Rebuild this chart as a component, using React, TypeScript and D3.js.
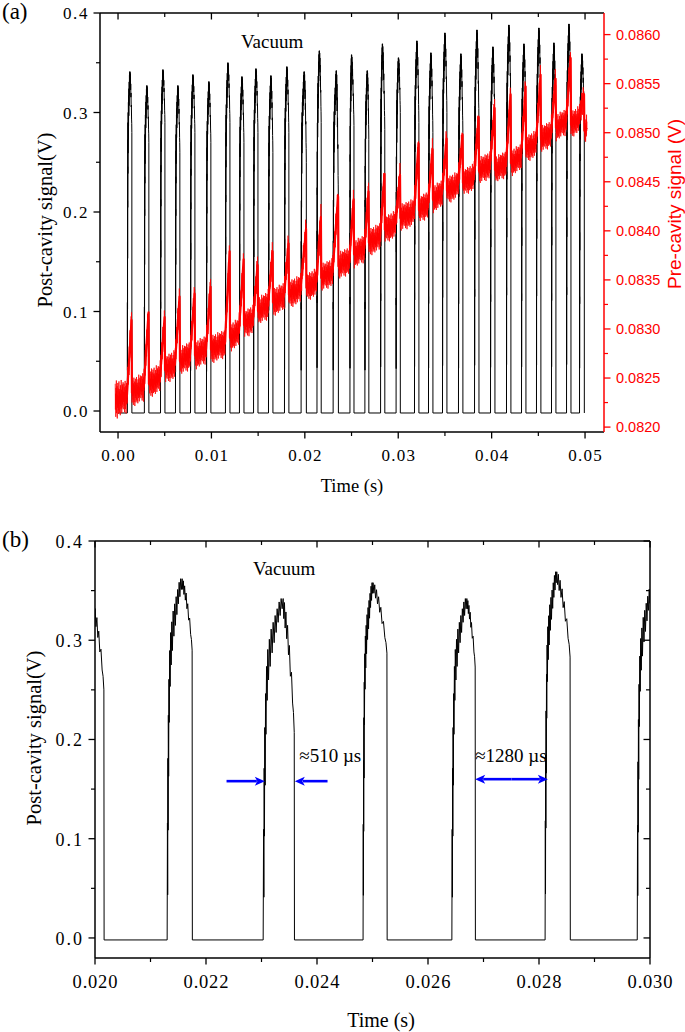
import React from 'react';
import * as d3 from 'd3';

// ---------------- DATA ----------------
// Post-cavity pulses (time in s, signal in V)
const PULSE_RISE_T = [0.00100, 0.00282, 0.00455, 0.00615, 0.00776, 0.00947, 0.01150, 0.01300, 0.01451, 0.01611, 0.01782, 0.01960, 0.02130, 0.02303, 0.02483, 0.02643, 0.02811, 0.02977, 0.03174, 0.03324, 0.03474, 0.03645, 0.03817, 0.03988, 0.04159, 0.04320, 0.04480, 0.04641, 0.04802, 0.04941];
const PULSE_PEAK_T = [0.00128, 0.00310, 0.00482, 0.00642, 0.00803, 0.00974, 0.01178, 0.01328, 0.01478, 0.01638, 0.01809, 0.01995, 0.02157, 0.02339, 0.02501, 0.02670, 0.02832, 0.03004, 0.03201, 0.03351, 0.03501, 0.03672, 0.03844, 0.04015, 0.04186, 0.04347, 0.04507, 0.04668, 0.04829, 0.04968];
const PULSE_FALL_T = [0.00148, 0.00330, 0.00502, 0.00662, 0.00823, 0.00994, 0.01198, 0.01348, 0.01498, 0.01658, 0.01829, 0.02016, 0.02175, 0.02359, 0.02526, 0.02685, 0.02856, 0.03022, 0.03221, 0.03371, 0.03521, 0.03692, 0.03864, 0.04035, 0.04206, 0.04367, 0.04527, 0.04688, 0.04849, 0.04992];
const PULSE_PEAK_V = [0.341, 0.327, 0.343, 0.327, 0.338, 0.331, 0.350, 0.336, 0.344, 0.337, 0.346, 0.341, 0.362, 0.342, 0.358, 0.342, 0.369, 0.355, 0.372, 0.360, 0.380, 0.359, 0.383, 0.366, 0.388, 0.369, 0.385, 0.370, 0.389, 0.359];
const PULSE_FALL_V = [0.28, 0.27, 0.29, 0.26, 0.28, 0.27, 0.29, 0.27, 0.28, 0.26, 0.28, 0.25, 0.29, 0.207, 0.287, 0.273, 0.283, 0.30, 0.29, 0.28, 0.30, 0.28, 0.29, 0.28, 0.30, 0.29, 0.30, 0.28, 0.30, 0.29];
const BASELINE_V = -0.002;

// Pulse shape template (fractions)
const RISE_SHAPE_U = [0, 0.02, 0.035, 0.05, 0.065, 0.08, 0.10, 0.12, 0.14, 0.17, 0.20, 0.23, 0.27, 0.31, 0.35, 0.40, 0.45, 0.50, 0.55, 0.60, 0.65, 0.70, 0.75, 0.80, 0.85, 0.90, 0.95, 1];
const RISE_SHAPE_F = [0, 0.32, 0.12, 0.50, 0.30, 0.62, 0.45, 0.72, 0.60, 0.80, 0.70, 0.85, 0.76, 0.88, 0.80, 0.91, 0.84, 0.93, 0.87, 0.95, 0.90, 0.97, 0.93, 0.99, 0.95, 1.0, 0.97, 1];
const FALL_SHAPE_V = [0, 0.06, 0.12, 0.18, 0.25, 0.32, 0.40, 0.48, 0.56, 0.65, 0.75, 0.85, 0.93, 1];
const FALL_SHAPE_G = [0, 0.15, 0.03, 0.22, 0.10, 0.30, 0.20, 0.42, 0.35, 0.58, 0.55, 0.78, 0.85, 1];

// Pre-cavity signal (right axis, V): band level in each gap and spike top at each pulse
const RED_LEVEL = [0.08228, 0.08238, 0.08247, 0.08261, 0.08270, 0.08276, 0.08282, 0.08294, 0.08307, 0.08321, 0.08330, 0.08338, 0.08345, 0.08355, 0.08367, 0.08379, 0.08391, 0.08404, 0.08416, 0.08424, 0.08435, 0.08444, 0.08452, 0.08464, 0.08465, 0.08472, 0.08486, 0.08496, 0.08508, 0.08511, 0.08505];
const RED_SPIKE = [0.08316, 0.08324, 0.08319, 0.08340, 0.08343, 0.08350, 0.08386, 0.08378, 0.08372, 0.08386, 0.08394, 0.08409, 0.08421, 0.08442, 0.08439, 0.08447, 0.08465, 0.08464, 0.08496, 0.08490, 0.08501, 0.08505, 0.08523, 0.08532, 0.08546, 0.08554, 0.08566, 0.08562, 0.08583, 0.08546];
const RED_T_START = -0.0003;
const RED_T_END = 0.0502;
const NOISE = [0.95, -0.6, 0.35, -1.05, 0.7, -0.3, 1.15, -0.85, 0.5, -0.15, 0.8, -1.2, 0.25, -0.55, 1.0, -0.4, 0.65, -0.95, 0.15, -0.75, 1.1, -0.2, 0.45,
  -0.9, 0.6, -0.35, 0.2, -1.1, 0.85, -0.5, 0.3, -0.7, 1.2, -0.25, 0.55, -1.0, 0.1, -0.65, 0.9, -0.45, 0.75, -0.15, 1.05, -0.8, 0.4, -0.3, 0.6];

// Ticks
const TOP_X_TICKS = [0, 0.01, 0.02, 0.03, 0.04, 0.05];
const TOP_X_LABELS = ['0.00', '0.01', '0.02', '0.03', '0.04', '0.05'];
const Y_TICKS = [0, 0.1, 0.2, 0.3, 0.4];
const Y_LABELS = ['0.0', '0.1', '0.2', '0.3', '0.4'];
const RIGHT_TICKS = [0.082, 0.0825, 0.083, 0.0835, 0.084, 0.0845, 0.085, 0.0855, 0.086];
const RIGHT_LABELS = ['0.0820', '0.0825', '0.0830', '0.0835', '0.0840', '0.0845', '0.0850', '0.0855', '0.0860'];
const BOT_X_TICKS = [0.020, 0.022, 0.024, 0.026, 0.028, 0.030];
const BOT_X_LABELS = ['0.020', '0.022', '0.024', '0.026', '0.028', '0.030'];

// Annotations (panel b)
const ARROW_510 = { leftFrom: 0.02237, leftTo: 0.02306, rightFrom: 0.02419, rightTo: 0.02360, v: 0.158, textT: 0.02368, textV: 0.177 };
const ARROW_1280 = { from: 0.02685, to: 0.02816, v: 0.160, textT: 0.02685, textV: 0.177 };

// ---------------- HELPERS ----------------
const SERIF = '"Liberation Serif", "Times New Roman", serif';
const SANS = '"Liberation Sans", Arial, sans-serif';

function blackPoints(t0: number, t1: number): [number, number][] {
  const pts: [number, number][] = [[t0, BASELINE_V]];
  PULSE_PEAK_T.forEach((tp, i) => {
    const tr = PULSE_RISE_T[i], tf = PULSE_FALL_T[i], vp = PULSE_PEAK_V[i], vf = PULSE_FALL_V[i];
    pts.push([tr, BASELINE_V]);
    RISE_SHAPE_U.forEach((u, j) => { if (j > 0) pts.push([tr + (tp - tr) * u, vp * RISE_SHAPE_F[j]]); });
    FALL_SHAPE_V.forEach((v, j) => { if (j > 0) pts.push([tp + (tf - tp) * v, vp + (vf - vp) * FALL_SHAPE_G[j]]); });
    pts.push([tf + 0.000004, BASELINE_V]);
  });
  if (t1 > PULSE_FALL_T[PULSE_FALL_T.length - 1]) pts.push([t1, BASELINE_V]);
  return pts;
}

function redCenter(): [number, number][] {
  const center: [number, number][] = [[RED_T_START, RED_LEVEL[0]]];
  PULSE_PEAK_T.forEach((_, i) => {
    center.push([PULSE_RISE_T[i] - 0.00006, RED_LEVEL[i] + 0.00003]);
    center.push([PULSE_FALL_T[i] - 0.00003, RED_SPIKE[i] - 0.00007]);
    center.push([PULSE_FALL_T[i] + 0.00001, RED_LEVEL[i + 1] - 0.00003]);
  });
  center.push([RED_T_END, RED_LEVEL[RED_LEVEL.length - 1]]);
  return center;
}

function redPoints(center: [number, number][]): [number, number][] {
  const cScale = d3.scaleLinear().domain(center.map(p => p[0])).range(center.map(p => p[1]));
  const amp = d3.scaleLinear().domain([RED_T_START, 0.0015, RED_T_END]).range([0.00017, 0.000125, 0.000115]).clamp(true);
  const pts: [number, number][] = [];
  const step = 0.00002;
  let i = 0;
  for (let t = RED_T_START; t <= RED_T_END; t += step, i++) {
    pts.push([t, cScale(t) + NOISE[i % NOISE.length] * amp(t)]);
  }
  return pts;
}

// ---------------- LAYOUT ----------------
const A = { left: 100, right: 604, top: 13, bottom: 432 };
const B = { left: 95, right: 650, top: 541, bottom: 958 };

const xA = d3.scaleLinear().domain([-0.00193, 0.05203]).range([A.left, A.right]);
const yA = d3.scaleLinear().domain([-0.0211, 0.4]).range([A.bottom, A.top]);
const yR = d3.scaleLinear().domain([0.08195, 0.08622]).range([A.bottom, A.top]);
const xB = d3.scaleLinear().domain([0.020, 0.030]).range([B.left, B.right]);
const yB = d3.scaleLinear().domain([-0.0202, 0.4]).range([B.bottom, B.top]);

function minorTicks(major: number[], lo: number, hi: number): number[] {
  const out: number[] = [];
  for (let i = 0; i < major.length - 1; i++) out.push((major[i] + major[i + 1]) / 2);
  const d = major[1] - major[0];
  const before = major[0] - d / 2; if (before >= lo) out.push(before);
  const after = major[major.length - 1] + d / 2; if (after <= hi) out.push(after);
  return out;
}

function Arrow({ x1, x2, y, color }: { x1: number; x2: number; y: number; color: string }) {
  const dir = x2 > x1 ? 1 : -1;
  const hl = 10, hw = 4.5;
  return (
    <g>
      <line x1={x1} y1={y} x2={x2 - dir * hl * 0.8} y2={y} stroke={color} strokeWidth={2.6} />
      <path d={`M${x2},${y} L${x2 - dir * hl},${y - hw} L${x2 - dir * hl * 0.75},${y} L${x2 - dir * hl},${y + hw} Z`} fill={color} />
    </g>
  );
}

export default function App() {
  const lineA = d3.line<[number, number]>().x(d => xA(d[0])).y(d => yA(d[1]));
  const lineR = d3.line<[number, number]>().x(d => xA(d[0])).y(d => yR(d[1]));
  const lineB = d3.line<[number, number]>().x(d => xB(d[0])).y(d => yB(d[1]));

  const blackTop = blackPoints(0, PULSE_FALL_T[PULSE_FALL_T.length - 1]);
  const blackBot = blackPoints(0.0195, 0.0305);
  const center = redCenter();
  const red = redPoints(center);

  const topXMinor = minorTicks(TOP_X_TICKS, -0.00193, 0.05203);
  const yMinorA = minorTicks(Y_TICKS, -0.0211, 0.4);
  const rMinor = minorTicks(RIGHT_TICKS, 0.08195, 0.08622);
  const botXMinor = minorTicks(BOT_X_TICKS, 0.02, 0.03);
  const yMinorB = minorTicks(Y_TICKS, -0.0202, 0.4);

  const axisW = 1.5;
  const MAJ = 6.5, MIN = 4;

  return (
    <svg width={685} height={1032} style={{ position: 'absolute', left: 0, top: 0, background: '#fff' }}>
      <defs>
        <clipPath id="clipA"><rect x={A.left} y={A.top} width={A.right - A.left} height={A.bottom - A.top} /></clipPath>
        <clipPath id="clipB"><rect x={B.left} y={B.top} width={B.right - B.left} height={B.bottom - B.top} /></clipPath>
      </defs>
      <rect x={0} y={0} width={685} height={1032} fill="#fff" />

      {/* ================= PANEL A ================= */}
      <g clipPath="url(#clipA)">
        <path d={lineA(blackTop) || ''} fill="none" stroke="#000" strokeWidth={1} strokeLinejoin="round" />
        <path d={lineR(red) || ''} fill="none" stroke="#ff0000" strokeWidth={0.75} strokeLinejoin="round" />
        <path d={lineR(center) || ''} fill="none" stroke="#ff0000" strokeWidth={2.2} strokeLinejoin="round" />
      </g>

      {/* left axis */}
      <line x1={A.left} y1={A.top} x2={A.left} y2={A.bottom} stroke="#000" strokeWidth={axisW} />
      {Y_TICKS.map((v, i) => (
        <g key={'ya' + i}>
          <line x1={A.left - MAJ} x2={A.left} y1={yA(v)} y2={yA(v)} stroke="#000" strokeWidth={1.3} />
          <text x={89} y={yA(v) + 6} textAnchor="end" fontFamily={SERIF} fontSize={17} letterSpacing={1.6}>{Y_LABELS[i]}</text>
        </g>
      ))}
      {yMinorA.map((v, i) => (
        <line key={'yam' + i} x1={A.left - MIN} x2={A.left} y1={yA(v)} y2={yA(v)} stroke="#000" strokeWidth={1.2} />
      ))}
      {/* bottom axis */}
      <line x1={A.left} y1={A.bottom} x2={A.right} y2={A.bottom} stroke="#000" strokeWidth={axisW} />
      {TOP_X_TICKS.map((v, i) => (
        <g key={'xa' + i}>
          <line x1={xA(v)} x2={xA(v)} y1={A.bottom} y2={A.bottom + MAJ} stroke="#000" strokeWidth={1.3} />
          <line x1={xA(v)} x2={xA(v)} y1={A.top} y2={A.top + MAJ} stroke="#000" strokeWidth={1.3} />
          <text x={xA(v) + 0.6} y={461} textAnchor="middle" fontFamily={SERIF} fontSize={17} letterSpacing={1.2}>{TOP_X_LABELS[i]}</text>
        </g>
      ))}
      {topXMinor.map((v, i) => (
        <g key={'xam' + i}>
          <line x1={xA(v)} x2={xA(v)} y1={A.bottom} y2={A.bottom + MIN} stroke="#000" strokeWidth={1.2} />
          <line x1={xA(v)} x2={xA(v)} y1={A.top} y2={A.top + MIN} stroke="#000" strokeWidth={1.2} />
        </g>
      ))}
      {/* top axis */}
      <line x1={A.left} y1={A.top} x2={A.right} y2={A.top} stroke="#000" strokeWidth={axisW} />
      {/* right axis (red) */}
      <line x1={A.right} y1={A.top} x2={A.right} y2={A.bottom} stroke="#ff0000" strokeWidth={axisW} />
      {RIGHT_TICKS.map((v, i) => (
        <g key={'r' + i}>
          <line x1={A.right} x2={A.right + MAJ} y1={yR(v)} y2={yR(v)} stroke="#ff0000" strokeWidth={1.3} />
          <text x={616} y={yR(v) + 5} fontFamily={SANS} fontSize={14.5} fill="#ff0000">{RIGHT_LABELS[i]}</text>
        </g>
      ))}
      {rMinor.map((v, i) => (
        <line key={'rm' + i} x1={A.right} x2={A.right + MIN} y1={yR(v)} y2={yR(v)} stroke="#ff0000" strokeWidth={1.2} />
      ))}

      <text x={2} y={19} fontFamily={SERIF} fontSize={23}>(a)</text>
      <text x={241} y={48} fontFamily={SERIF} fontSize={19}>Vacuum</text>
      <text x={352} y={492} textAnchor="middle" fontFamily={SERIF} fontSize={18.5}>Time (s)</text>
      <text transform={`translate(52,${220}) rotate(-90)`} textAnchor="middle" fontFamily={SERIF} fontSize={20.5}>Post-cavity signal(V)</text>
      <text transform={`translate(681,${204}) rotate(-90)`} textAnchor="middle" fontFamily={SANS} fontSize={19} fill="#ff0000">Pre-cavity signal (V)</text>

      {/* ================= PANEL B ================= */}
      <g clipPath="url(#clipB)">
        <path d={lineB(blackBot) || ''} fill="none" stroke="#000" strokeWidth={1} strokeLinejoin="round" />
      </g>

      <line x1={B.left} y1={B.top} x2={B.left} y2={B.bottom} stroke="#000" strokeWidth={axisW} />
      <line x1={B.right} y1={B.top} x2={B.right} y2={B.bottom} stroke="#000" strokeWidth={axisW} />
      <line x1={B.left} y1={B.top} x2={B.right} y2={B.top} stroke="#000" strokeWidth={axisW} />
      <line x1={B.left} y1={B.bottom} x2={B.right} y2={B.bottom} stroke="#000" strokeWidth={axisW} />
      {Y_TICKS.map((v, i) => (
        <g key={'yb' + i}>
          <line x1={B.left - MAJ} x2={B.left} y1={yB(v)} y2={yB(v)} stroke="#000" strokeWidth={1.3} />
          <line x1={B.right - MAJ} x2={B.right} y1={yB(v)} y2={yB(v)} stroke="#000" strokeWidth={1.3} />
          <text x={84} y={yB(v) + 7} textAnchor="end" fontFamily={SERIF} fontSize={18} letterSpacing={2}>{Y_LABELS[i]}</text>
        </g>
      ))}
      {yMinorB.map((v, i) => (
        <g key={'ybm' + i}>
          <line x1={B.left - MIN} x2={B.left} y1={yB(v)} y2={yB(v)} stroke="#000" strokeWidth={1.2} />
          <line x1={B.right - MIN} x2={B.right} y1={yB(v)} y2={yB(v)} stroke="#000" strokeWidth={1.2} />
        </g>
      ))}
      {BOT_X_TICKS.map((v, i) => (
        <g key={'xb' + i}>
          <line x1={xB(v)} x2={xB(v)} y1={B.bottom} y2={B.bottom + MAJ} stroke="#000" strokeWidth={1.3} />
          <line x1={xB(v)} x2={xB(v)} y1={B.top} y2={B.top + MAJ} stroke="#000" strokeWidth={1.3} />
          <text x={xB(v) + 0.4} y={988} textAnchor="middle" fontFamily={SERIF} fontSize={18.5} letterSpacing={0.8}>{BOT_X_LABELS[i]}</text>
        </g>
      ))}
      {botXMinor.map((v, i) => (
        <g key={'xbm' + i}>
          <line x1={xB(v)} x2={xB(v)} y1={B.bottom} y2={B.bottom + MIN} stroke="#000" strokeWidth={1.2} />
          <line x1={xB(v)} x2={xB(v)} y1={B.top} y2={B.top + MIN} stroke="#000" strokeWidth={1.2} />
        </g>
      ))}

      {/* annotations */}
      <Arrow x1={xB(ARROW_510.leftFrom)} x2={xB(ARROW_510.leftTo)} y={yB(ARROW_510.v)} color="#0000ff" />
      <Arrow x1={xB(ARROW_510.rightFrom)} x2={xB(ARROW_510.rightTo)} y={yB(ARROW_510.v)} color="#0000ff" />
      <text x={xB(ARROW_510.textT)} y={yB(ARROW_510.textV)} fontFamily={SERIF} fontSize={19}>≈510 µs</text>
      <Arrow x1={(xB(ARROW_1280.from) + xB(ARROW_1280.to)) / 2} x2={xB(ARROW_1280.from)} y={yB(ARROW_1280.v)} color="#0000ff" />
      <Arrow x1={(xB(ARROW_1280.from) + xB(ARROW_1280.to)) / 2} x2={xB(ARROW_1280.to)} y={yB(ARROW_1280.v)} color="#0000ff" />
      <text x={xB(ARROW_1280.textT)} y={yB(ARROW_1280.textV)} fontFamily={SERIF} fontSize={19}>≈1280 µs</text>

      <text x={2} y={547} fontFamily={SERIF} fontSize={23}>(b)</text>
      <text x={253} y={575} fontFamily={SERIF} fontSize={19}>Vacuum</text>
      <text x={381} y={1027} textAnchor="middle" fontFamily={SERIF} fontSize={20}>Time (s)</text>
      <text transform={`translate(41,${738}) rotate(-90)`} textAnchor="middle" fontFamily={SERIF} fontSize={20.5}>Post-cavity signal(V)</text>
    </svg>
  );
}
